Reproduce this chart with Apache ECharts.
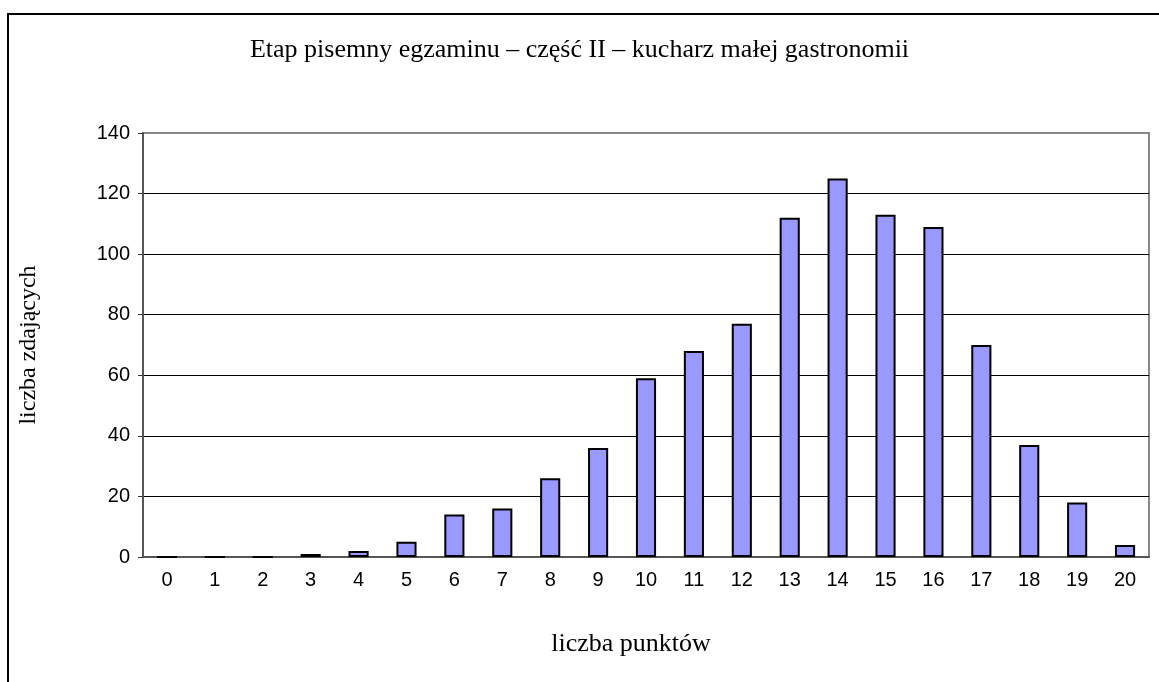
<!DOCTYPE html>
<html>
<head>
<meta charset="utf-8">
<script src="https://cdn.jsdelivr.net/npm/echarts@6/dist/echarts.min.js"></script>
<style>
  html, body { margin: 0; padding: 0; background: #fff; }
  #chart { width: 1159px; height: 682px; }
</style>
</head>
<body>
<div id="chart"></div>
<script>
// Punkty 0-20 i liczba zdających
const POINTS = ['0', '1', '2', '3', '4', '5', '6', '7', '8', '9', '10',
                '11', '12', '13', '14', '15', '16', '17', '18', '19', '20'];
const STUDENTS = [0, 0, 0, 1, 2, 5, 14, 16, 26, 36, 59, 68, 77, 112, 125, 113, 109, 70, 37, 18, 4];

const TITLE = 'Etap pisemny egzaminu – część II – kucharz małej gastronomii';
const X_NAME = 'liczba punktów';
const Y_NAME = 'liczba zdających';

const SERIF = '"Liberation Serif", "Times New Roman", serif';
const SANS = '"Liberation Sans", Arial, sans-serif';

const chart = echarts.init(document.getElementById('chart'));

chart.setOption({
    animation: false,
    backgroundColor: '#fff',
    title: {
        text: TITLE,
        left: 'center',
        top: 32,
        textStyle: {
            fontFamily: SERIF,
            fontSize: 26,
            fontWeight: 'normal',
            color: '#000'
        }
    },
    graphic: [{
        type: 'rect',
        shape: { x: 8, y: 14, width: 1200, height: 720 },
        style: { fill: 'none', stroke: '#000', lineWidth: 2 },
        silent: true
    }],
    grid: {
        left: 143,
        right: 10,
        top: 133,
        bottom: 125,
        show: true,
        borderColor: '#888',
        borderWidth: 2,
        backgroundColor: 'transparent'
    },
    xAxis: {
        type: 'category',
        data: POINTS,
        name: X_NAME,
        nameLocation: 'middle',
        nameGap: 74,
        nameTextStyle: {
            fontFamily: SERIF,
            fontSize: 26,
            color: '#000',
            // the name sits a little left of the plot centre
            padding: [0, 30, 0, 0]
        },
        axisLine: { lineStyle: { color: '#555', width: 2 } },
        axisTick: {
            alignWithLabel: false,
            length: 7,
            lineStyle: { color: '#333' }
        },
        axisLabel: {
            fontFamily: SANS,
            fontSize: 20,
            color: '#000',
            margin: 13,
            interval: 0
        }
    },
    yAxis: {
        type: 'value',
        min: 0,
        max: 140,
        interval: 20,
        name: Y_NAME,
        nameLocation: 'middle',
        nameGap: 102,
        nameRotate: 90,
        nameTextStyle: {
            fontFamily: SERIF,
            fontSize: 24,
            color: '#000'
        },
        axisLine: { show: true, lineStyle: { color: '#555', width: 2 } },
        axisTick: { show: true, length: 5, lineStyle: { color: '#333' } },
        axisLabel: {
            fontFamily: SANS,
            fontSize: 20,
            color: '#000',
            margin: 13
        },
        splitLine: {
            show: true,
            showMaxLine: false,
            lineStyle: { color: '#000', width: 1 }
        }
    },
    series: [{
        type: 'bar',
        data: STUDENTS,
        barWidth: '42%',
        itemStyle: {
            color: '#9999ff',
            borderColor: '#000',
            borderWidth: 2
        }
    }]
});
</script>
</body>
</html>
